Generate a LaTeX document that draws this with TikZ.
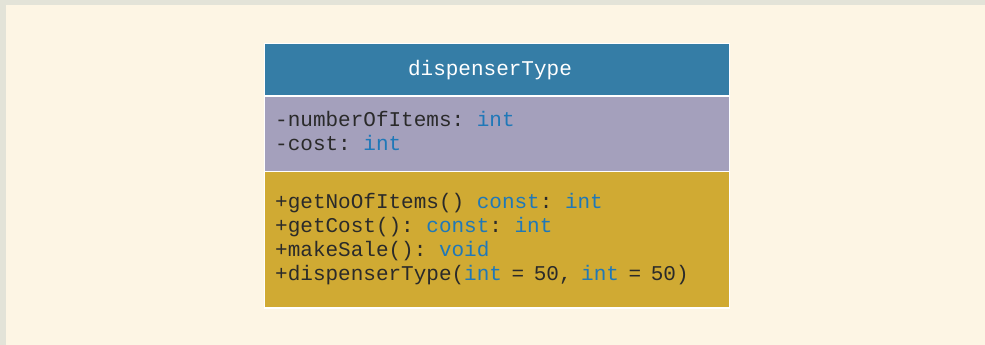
\documentclass[tikz,border=0pt]{standalone}
\usepackage{fontspec}
\setmonofont{Liberation Mono}
\definecolor{outerbg}{HTML}{E3E3D8}
\definecolor{cream}{HTML}{FDF5E4}
\definecolor{hdr}{HTML}{357DA6}
\definecolor{attr}{HTML}{A4A0BC}
\definecolor{meth}{HTML}{D0AA33}
\definecolor{kw}{HTML}{1F78B8}
\definecolor{txt}{HTML}{2A2A2A}
\newcommand{\kwd}[1]{\textcolor{kw}{#1}}
\newcommand{\nsp}{\hspace{9.6pt}}
\tikzset{
  compart/.style={draw=white, line width=1.2pt, inner sep=0pt, outer sep=0pt},
  line/.style={anchor=base west, inner sep=0pt, font=\ttfamily\fontsize{21}{24}\selectfont, text=txt},
}
\begin{document}
\begin{tikzpicture}[x=1pt,y=-1pt]
\useasboundingbox (0,0) rectangle (985,345);
\fill[outerbg] (0,0) rectangle (985,345);
\fill[cream] (6,5) rectangle (985,345);
\path[compart, fill=hdr] (264.5,43.5) rectangle (729.5,96) node[pos=0.5, name=header] {};
\path[compart, fill=attr] (264.5,96) rectangle (729.5,171.5) node[pos=0.5, name=attrs] {};
\path[compart, fill=meth] (264.5,171.5) rectangle (729.5,308) node[pos=0.5, name=meths] {};
\node[line, anchor=base, text=white] (title) at (490,76) {dispenserType};
\node[line] (a1) at (275,126) {-numberOfItems: \kwd{int}};
\node[line] (a2) at (275,150) {-cost: \kwd{int}};
\node[line] (m1) at (275,208) {+getNoOfItems() \kwd{const}: \kwd{int}};
\node[line] (m2) at (275,232) {+getCost(): \kwd{const}: \kwd{int}};
\node[line] (m3) at (275,256) {+makeSale(): \kwd{void}};
\node[line] (m4) at (275,280) {+dispenserType(\kwd{int}\nsp=\nsp50,\nsp\kwd{int}\nsp=\nsp50)};
\end{tikzpicture}
\end{document}
